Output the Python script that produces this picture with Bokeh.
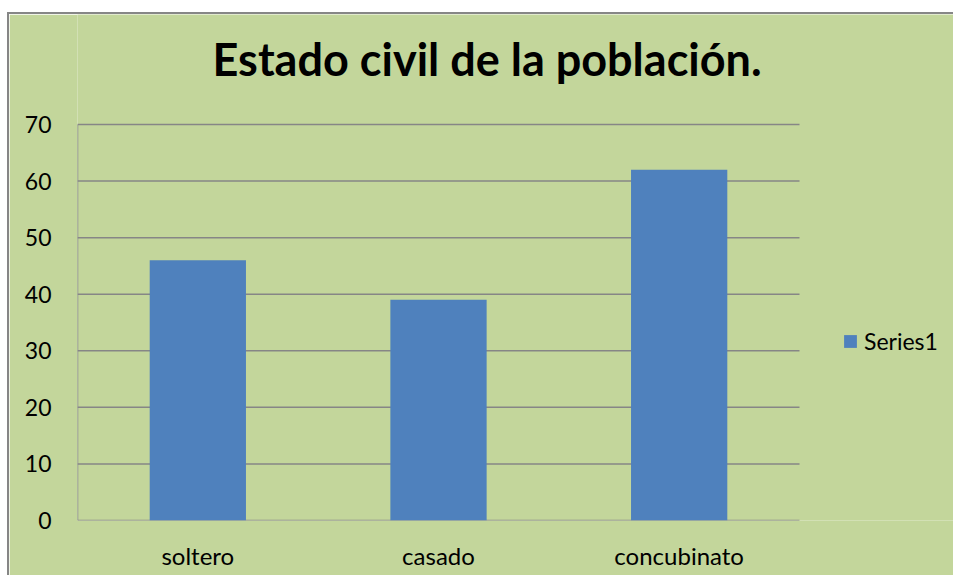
from bokeh.plotting import figure
from bokeh.models import Legend, LegendItem, Range1d, FixedTicker, Label
from bokeh.embed import file_html
from bokeh.resources import INLINE

categories = ["soltero", "casado", "concubinato"]
values = [46, 39, 62]
y_ticks = [0, 10, 20, 30, 40, 50, 60, 70]
series_name = "Series1"
title_text = "Estado civil de la población."

BG = "#C3D69B"
BAR = "#4F81BD"
GRID = "#868686"
FONT = "Lato"

n = len(categories)
xs = [i + 0.5 for i in range(n)]
y_top = y_ticks[-1]

# frame covers everything right of the y labels and above the x labels;
# the value area (0..70, 0..n) occupies 722 x 396 px of it
p = figure(x_range=Range1d(0, n * 878 / 722), y_range=Range1d(0, y_top * 506 / 396),
           width=946, height=563, output_backend="svg", toolbar_location=None,
           min_border_left=68, min_border_right=0, min_border_top=0, min_border_bottom=57)
p.background_fill_color = BG
p.border_fill_color = BG
p.outline_line_color = None
p.styles = {"border-left": "2px solid #868686", "border-top": "2px solid #868686",
            "margin-left": "7px", "margin-top": "12px"}

# horizontal gridlines limited to the category area, plus the value axis line
p.segment(x0=[0] * len(y_ticks), x1=[n] * len(y_ticks), y0=y_ticks, y1=y_ticks,
          line_color=GRID, line_width=1.5)
p.segment(x0=[0], x1=[0], y0=[0], y1=[y_top], line_color=GRID, line_width=1.5)

r = p.vbar(x=xs, top=values, width=0.40, fill_color=BAR, line_color=None)

p.xgrid.grid_line_color = None
p.ygrid.grid_line_color = None
p.yaxis.ticker = FixedTicker(ticks=y_ticks)
p.xaxis.ticker = FixedTicker(ticks=xs)
p.xaxis.major_label_overrides = {x: c for x, c in zip(xs, categories)}

for ax in (p.xaxis[0], p.yaxis[0]):
    ax.axis_line_color = None
    ax.major_tick_line_color = None
    ax.minor_tick_line_color = None
    ax.major_label_text_font = FONT
    ax.major_label_text_font_size = "23px"
    ax.major_label_text_color = "#000000"
p.yaxis.major_label_standoff = 20
p.xaxis.major_label_standoff = 14
p.xaxis.major_label_text_font_size = "24px"

title = Label(x=1.702, y=81.5, text=title_text, text_font=FONT, text_font_style="bold",
              text_font_size="45px", text_align="center", text_baseline="alphabetic",
              text_color="#000000")
p.add_layout(title)

legend = Legend(items=[LegendItem(label=series_name, renderers=[r])], location=(765, 165),
                background_fill_alpha=0, border_line_color=None, padding=0, margin=0,
                glyph_width=16, glyph_height=16, label_height=28, label_standoff=6,
                label_text_font=FONT, label_text_font_size="23px", label_text_color="#000000")
p.add_layout(legend, "center")

open("out.html", "w").write(file_html(p, INLINE))
